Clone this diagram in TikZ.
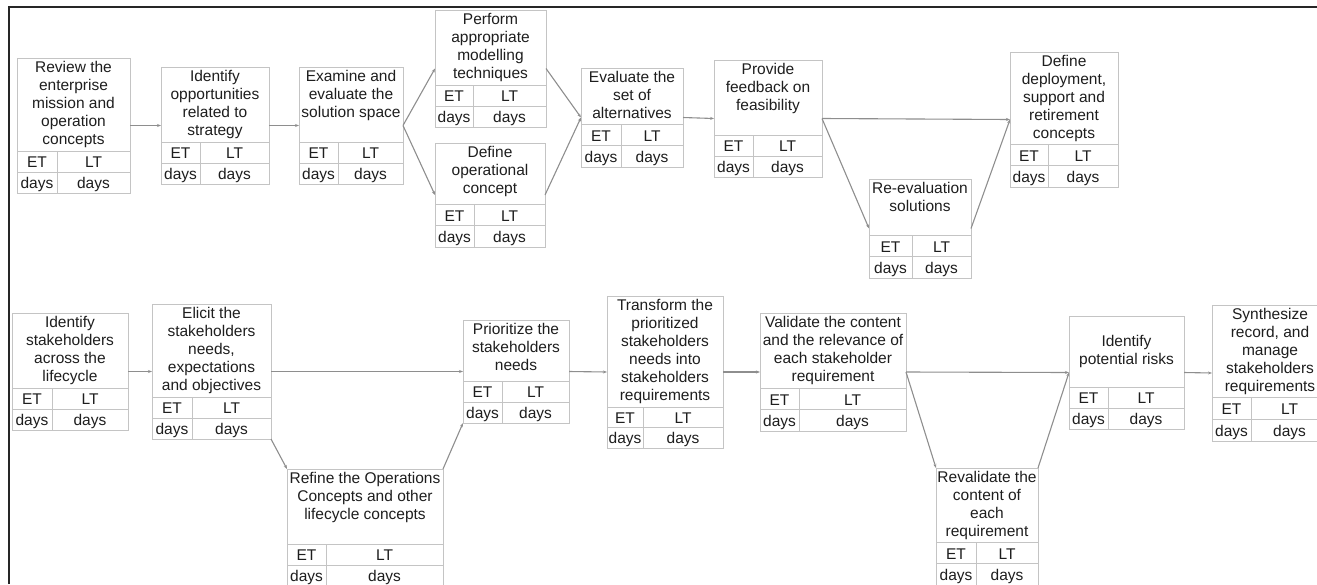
\documentclass[tikz,border=0pt]{standalone}
\usepackage{fontspec}
\setmainfont{Liberation Sans}
\usetikzlibrary{arrows.meta}
\definecolor{boxgray}{HTML}{C4C4C4}
\definecolor{arrowgray}{HTML}{8E8E8E}
\definecolor{textgray}{HTML}{1E1E1E}
\tikzset{
    boxn/.style = {rectangle, draw=boxgray, line width=1pt, fill=white, inner sep=0pt, outer sep=0pt},
    boxline/.style = {draw=boxgray, line width=1pt},
    titlen/.style = {align=center, inner sep=0pt, text=textgray, anchor=north},
    celln/.style = {inner sep=0pt, text=textgray, anchor=base},
    edgen/.style = {-{Stealth[length=4pt,width=3pt]}, line width=1.1pt, arrowgray},
    framen/.style = {line width=2pt, black!85}
}
% [text drop]{name}{left}{right}{top}{title bottom}{bottom}{ET|LT divider}{text}
\newcommand{\taskbox}[9][3.5]{%
    \node[boxn, minimum width={#4pt-#3pt}, minimum height={#7pt-#5pt}, anchor=north west] (#2) at (#3,#5) {};
    \draw[boxline] (#3,#6) -- (#4,#6) (#3,{(#6+#7)/2}) -- (#4,{(#6+#7)/2}) (#8,#6) -- (#8,#7);
    \node[titlen] (#2-ti) at ({(#3+#4)/2},{#5+#1}) {#9};
    \node[celln] (#2-et) at ({(#3+#8)/2},{(#6+#7)/2-4.5}) {ET};
    \node[celln] (#2-lt) at ({(#8+#4)/2},{(#6+#7)/2-4.5}) {LT};
    \node[celln] (#2-d1) at ({(#3+#8)/2},{#7-4.5}) {days};
    \node[celln] (#2-d2) at ({(#8+#4)/2},{#7-4.5}) {days};
}

\begin{document}
\begin{tikzpicture}[x=1pt, y=-1pt, font=\fontsize{15.5}{18}\selectfont]
\useasboundingbox (0,0) rectangle (1317,584);
\clip (0,0) rectangle (1317,584);
\draw[framen] (9,584) -- (9,7) -- (1317,7);
% upper chain
\taskbox{t1}{17}{130}{58}{151}{193}{57}{Review the\\enterprise\\mission and\\operation\\concepts}
\taskbox{t2}{161}{269}{67}{142}{184}{200}{Identify\\opportunities\\related to\\strategy}
\taskbox{t3}{299}{403}{67}{142}{184}{338}{Examine and\\evaluate the\\solution space}
\taskbox{t4}{435}{546}{10}{85}{127}{473}{Perform\\appropriate\\modelling\\techniques}
\taskbox{t5}{435}{545}{143}{204}{247}{474}{Define\\operational\\concept}
\taskbox{t6}{581}{683}{68}{124}{167}{621}{Evaluate the\\set of\\alternatives}
\taskbox{t7}{714}{822}{60}{135}{177}{753}{Provide\\feedback on\\feasibility}
\taskbox{t8}{869}{971}{179}{235}{278}{912}{Re-evaluation\\solutions}
\taskbox{t9}{1010}{1118}{52}{144}{187}{1048}{Define\\deployment,\\support and\\retirement\\concepts}
% lower chain
\taskbox{b1}{12}{128}{313}{388}{430}{52}{Identify\\stakeholders\\across the\\lifecycle}
\taskbox{b2}{152}{271}{304}{397}{439}{192}{Elicit the\\stakeholders\\needs,\\expectations\\and objectives}
\taskbox{b3}{287}{443}{469}{544}{586}{326}{Refine the Operations\\Concepts and other\\lifecycle concepts}
\taskbox{b4}{463}{569}{320}{381}{423}{502}{Prioritize the\\stakeholders\\needs}
\taskbox{b5}{607}{723}{296}{407}{448}{643}{Transform the\\prioritized\\stakeholders\\needs into\\stakeholders\\requirements}
\taskbox{b6}{760}{906}{313}{388}{431}{799}{Validate the content\\and the relevance of\\each stakeholder\\requirement}
\taskbox{b7}{936}{1038}{468}{542}{585}{976}{Revalidate the\\content of\\each\\requirement}
\taskbox[19]{b8}{1069}{1184}{316}{387}{429}{1108}{Identify\\potential risks}
\taskbox{b9}{1212}{1328}{305}{397}{441}{1251}{Synthesize\\record, and\\manage\\stakeholders\\requirements}
%
\draw[edgen] (t1.east) -- (t2.west);
\draw[edgen] (t2.east) -- (t3.west);
\draw[edgen] (t3.east) -- (t4.west);
\draw[edgen] (t3.east) -- (t5.west);
\draw[edgen] (t4.east) -- (t6.west);
\draw[edgen] (t5.east) -- (t6.west);
\draw[edgen] (t6.east) -- (t7.west);
\draw[edgen] (t7.east) -- (t9.west);
\draw[edgen] (t7.east) -- (t8.west);
\draw[edgen] (t8.east) -- (t9.west);
%
\draw[edgen] (b1.east) -- (b2.west);
\draw[edgen] (b2.east) -- (b4.west);
\draw[edgen] (b2.south east) -- (b3.north west);
\draw[edgen] (b3.north east) -- (b4.south west);
\draw[edgen] (b4.east) -- (b5.west);
\draw[edgen] (b5.east) -- (b6.west);
\draw[edgen] (b6.east) -- (b8.west);
\draw[edgen] (b6.east) -- (b7.north west);
\draw[edgen] (b7.north east) -- (b8.west);
\draw[edgen] (b8.east) -- (b9.west);

\end{tikzpicture}
\end{document}
